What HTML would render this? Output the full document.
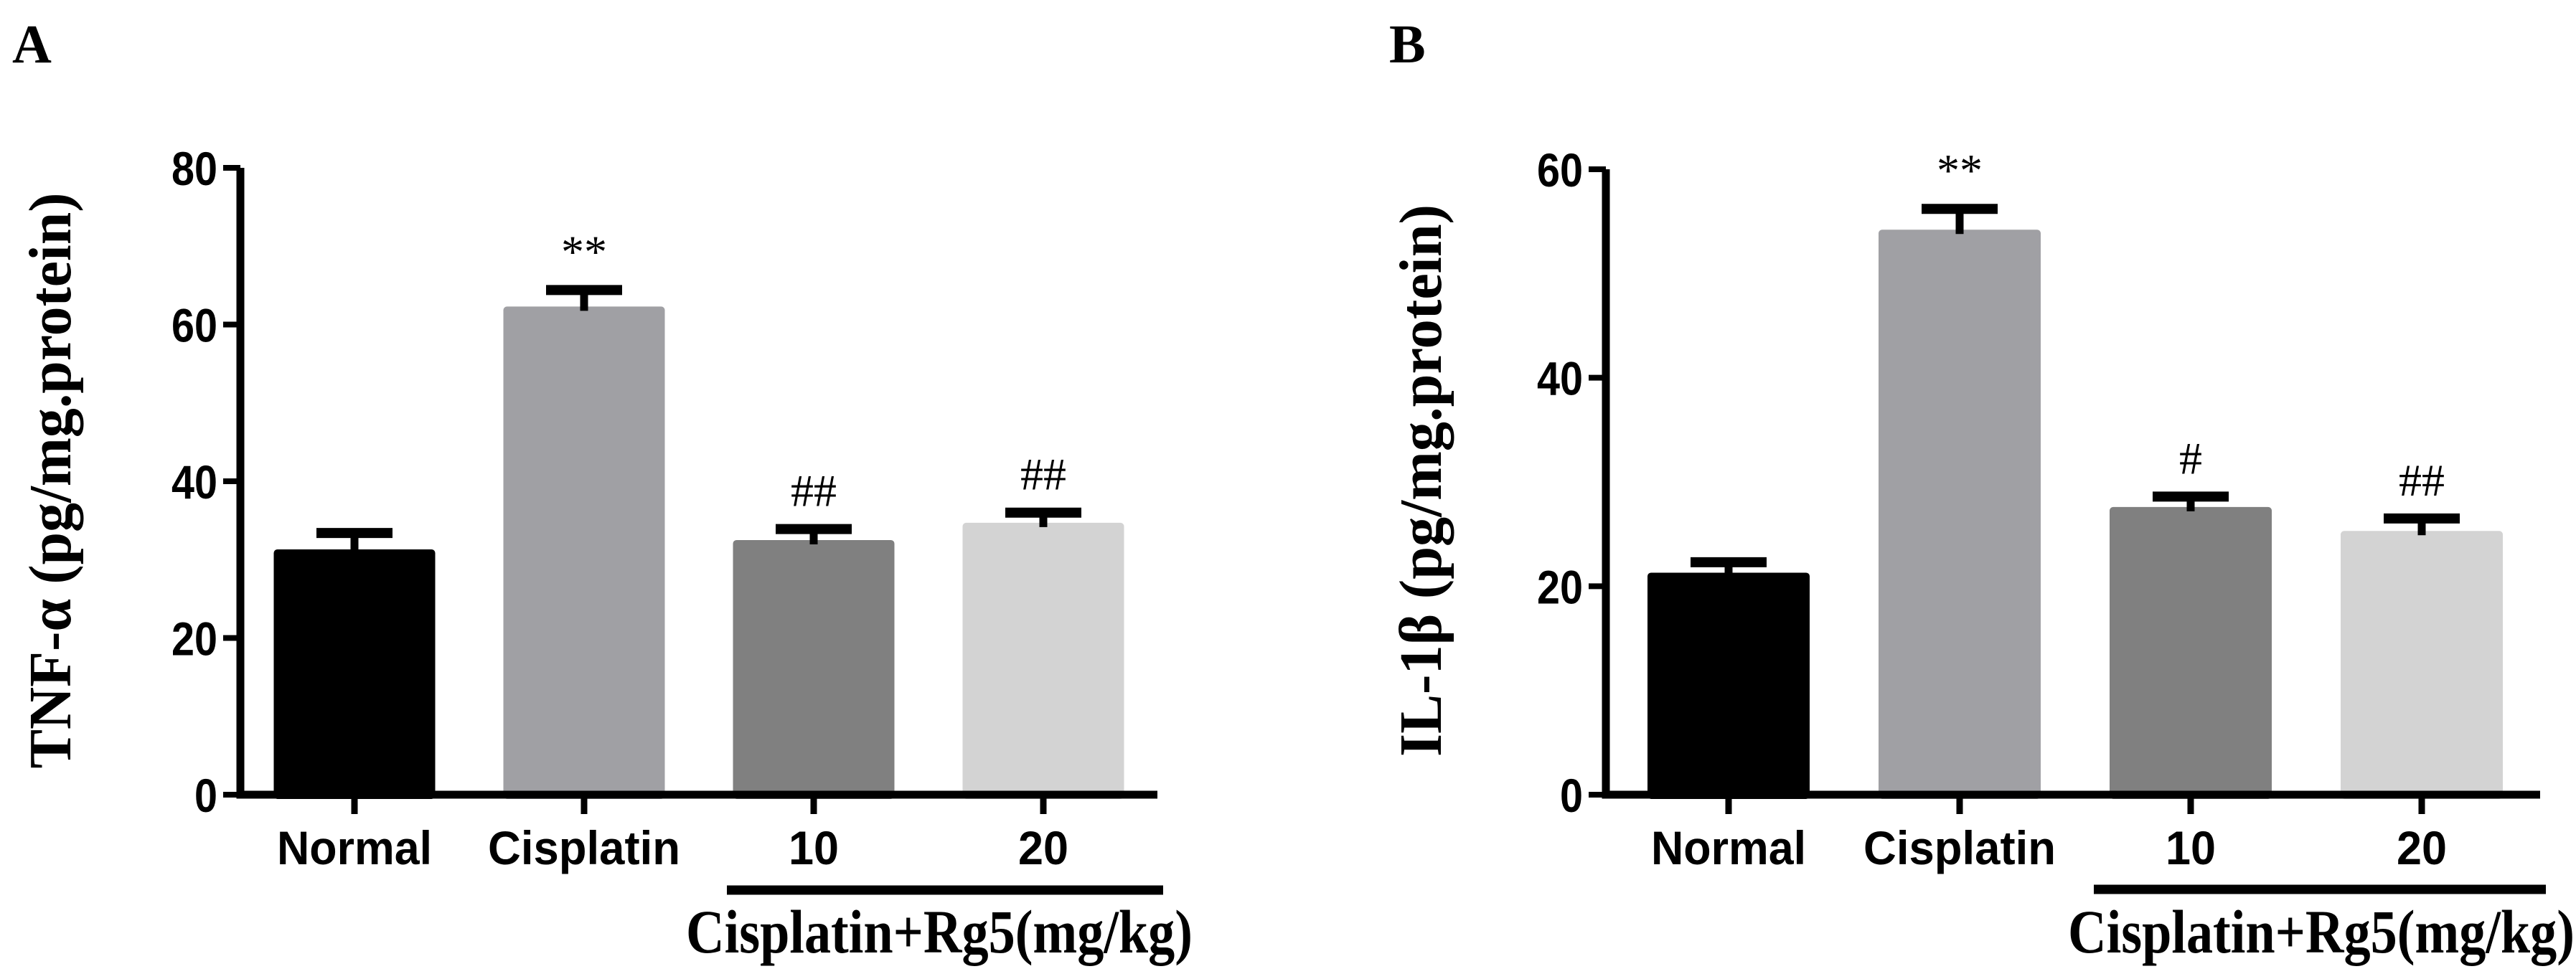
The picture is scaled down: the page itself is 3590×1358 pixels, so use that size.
<!DOCTYPE html>
<html><head><meta charset="utf-8"><style>
html,body{margin:0;padding:0;background:#fff;}
svg{display:block;}
</style></head><body>
<svg id="chart" width="3590" height="1358" viewBox="0 0 3590 1358" xmlns="http://www.w3.org/2000/svg">
<text x="17" y="87" font-family="Liberation Serif, serif" font-weight="bold" font-size="76">A</text>
<text x="1936" y="87" font-family="Liberation Serif, serif" font-weight="bold" font-size="76">B</text>
</svg>
<script>
const categories = ["Normal", "Cisplatin", "10", "20"];
const colors = ["#000000", "#a0a0a4", "#808080", "#d3d3d3"];
const tnfValues = [31.3, 62.3, 32.5, 34.7];
const tnfErrors = [2.1, 2.1, 1.4, 1.3];
const tnfMarks = ["", "**", "##", "##"];
const tnfTicks = [0, 20, 40, 60, 80];
const ilValues = [21.3, 54.2, 27.6, 25.3];
const ilErrors = [1.0, 2.0, 1.0, 1.2];
const ilMarks = ["", "**", "#", "##"];
const ilTicks = [0, 20, 40, 60];

const NS = "http://www.w3.org/2000/svg";
const svg = document.getElementById("chart");
function mk(tag, attrs, parent) {
  const e = document.createElementNS(NS, tag);
  for (const k in attrs) e.setAttribute(k, attrs[k]);
  (parent || svg).appendChild(e);
  return e;
}

function panel(p) {
  const g = mk("g", {});
  
  
  const ymax = p.ticks[p.ticks.length - 1];
  const y = v => p.y0 - (v / ymax) * (p.y0 - p.yTop);
  const cx = i => p.c0 + i * p.step;
  p.values.forEach((v, i) => {
    const b = mk("rect", {x: cx(i) - p.bw / 2, y: y(v), width: p.bw, height: p.y0 - y(v) + 6, rx: 5, fill: colors[i]}, g);
    
    
    const top = y(v + p.errors[i]);
    const stem = mk("line", {x1: cx(i), x2: cx(i), y1: y(v) + 6, y2: top, stroke: "#000", "stroke-width": 11}, g);
    
    
    const cap = mk("line", {x1: cx(i) - 53, x2: cx(i) + 53, y1: top, y2: top, stroke: "#000", "stroke-width": 14}, g);
    
    
    if (p.marks[i]) {
      const t = mk("text", {x: cx(i), y: top - 32, "text-anchor": "middle", "font-family": "Liberation Serif, serif", "font-size": 64}, g);
      t.textContent = p.marks[i];
      
      
    }
    const tk = mk("line", {x1: cx(i), x2: cx(i), y1: p.y0, y2: p.y0 + 27, stroke: "#000", "stroke-width": 9}, g);
    
    
    const lbl = mk("text", {x: cx(i), y: p.y0 + 97, "text-anchor": "middle", "font-family": "Liberation Sans, sans-serif", "font-weight": "bold", "font-size": 66, textLength: categories[i].length > 2 ? (categories[i] === "Normal" ? 216 : 268) : 70, lengthAdjust: "spacingAndGlyphs"}, g);
    lbl.textContent = categories[i];
    
    
  });
  const ax = mk("path", {d: `M${p.ax} ${p.yTop} V${p.y0} H${p.axEnd}`, stroke: "#000", "stroke-width": 11, fill: "none"}, g);
  
  
  p.ticks.forEach(t => {
    const l = mk("line", {x1: p.ax - 24, x2: p.ax, y1: y(t), y2: y(t), stroke: "#000", "stroke-width": 8}, g);
    
    
    const tx = mk("text", {x: p.ax - 32, y: y(t) + 24, "text-anchor": "end", "font-family": "Liberation Sans, sans-serif", "font-weight": "bold", "font-size": 66, textLength: String(t).length * 32, lengthAdjust: "spacingAndGlyphs"}, g);
    tx.textContent = t;
    
    
  });
  const br = mk("line", {x1: p.brX1, x2: p.axEnd + 8, y1: p.brY, y2: p.brY, stroke: "#000", "stroke-width": 13}, g);
  
  
  const gl = mk("text", {x: p.glX, y: 1328, "font-family": "Liberation Serif, serif", "font-weight": "bold", "font-size": 86, textLength: 706, lengthAdjust: "spacingAndGlyphs"}, g);
  gl.textContent = "Cisplatin+Rg5(mg/kg)";
  
  
  const yt = mk("text", {x: 0, y: 0, transform: `translate(${p.ytX},${p.ytY}) rotate(-90)`, "text-anchor": "middle", "font-family": "Liberation Serif, serif", "font-weight": "bold", "font-size": 84, textLength: p.ytLen, lengthAdjust: "spacingAndGlyphs"}, g);
  yt.textContent = p.title;
  
  
}

panel({name: "tnf-alpha-chart", values: tnfValues, errors: tnfErrors, marks: tnfMarks, ticks: tnfTicks,
  y0: 1108, yTop: 234, ax: 335, axEnd: 1613, c0: 494, step: 320, bw: 225,
  brX1: 1013, brY: 1241, glX: 956, ytX: 98, ytY: 670, ytLen: 803, title: "TNF-α (pg/mg.protein)"});
panel({name: "il-1beta-chart", values: ilValues, errors: ilErrors, marks: ilMarks, ticks: ilTicks,
  y0: 1108, yTop: 236, ax: 2238, axEnd: 3540, c0: 2409, step: 322, bw: 226,
  brX1: 2918, brY: 1240, glX: 2882, ytX: 2008, ytY: 670, ytLen: 770, title: "IL-1β (pg/mg.protein)"});
</script>
</body></html>
